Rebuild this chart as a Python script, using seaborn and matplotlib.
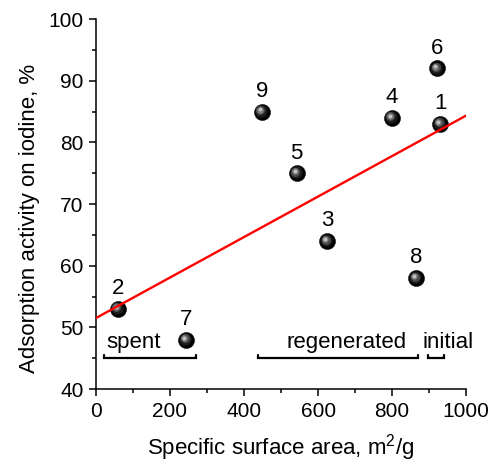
import numpy as np
import pandas as pd
import matplotlib
matplotlib.use("Agg")
import matplotlib.pyplot as plt
import matplotlib.transforms as mtransforms
import seaborn as sns

# Sample numbers and measured properties
sample_ids = ["1", "2", "3", "4", "5", "6", "7", "8", "9"]
surface_area = [930, 59, 624, 799, 542, 922, 243, 865, 448]      # m2/g
iodine_activity = [83, 53, 64, 84, 75, 92, 48, 58, 85]          # %

# Sample groups shown as brackets under the points
group_names = ["spent", "regenerated", "initial"]
group_start = [22, 439, 896]
group_end = [270, 871, 941]
group_label_x = [103, 676, 950]

x_ticks = [0, 200, 400, 600, 800, 1000]
y_ticks = [40, 50, 60, 70, 80, 90, 100]

df = pd.DataFrame({"id": sample_ids, "area": surface_area, "iodine": iodine_activity})

sns.set_style("ticks")
plt.rcParams["font.family"] = ["Liberation Sans", "DejaVu Sans"]
plt.rcParams["mathtext.fontset"] = "custom"
plt.rcParams["mathtext.rm"] = "Liberation Sans"
plt.rcParams["mathtext.default"] = "regular"
plt.rcParams["text.color"] = "black"
plt.rcParams["axes.labelcolor"] = "black"
plt.rcParams["xtick.color"] = "black"
plt.rcParams["ytick.color"] = "black"

fig = plt.figure(figsize=(4.97, 4.65), dpi=100)
ax = fig.add_axes([0.193, 0.1634, 0.745, 0.7956])
ax.set_xlim(0, 1000)
ax.set_ylim(40, 100)

# Shaded spheres: black body with lighter layers shifted up-left
sns.scatterplot(data=df, x="area", y="iodine", ax=ax, s=135, color="black",
                edgecolor="black", linewidth=0.3, zorder=3, legend=False)
layers = [(78, "#1c1c1c", -0.6, 0.6), (42, "#4a4a4a", -1.0, 1.0),
          (21, "#7e7e7e", -1.3, 1.3), (7, "#c2c2c2", -1.5, 1.5)]
for size, col, dx, dy in layers:
    off = ax.transData + mtransforms.ScaledTranslation(dx / 72, dy / 72, fig.dpi_scale_trans)
    ax.scatter(df["area"], df["iodine"], s=size, color=col, linewidths=0,
               transform=off, zorder=3)

# Linear fit over the full axis range
sns.regplot(data=df, x="area", y="iodine", ax=ax, scatter=False, ci=None,
            truncate=False, line_kws=dict(color="#ff0000", lw=1.7, zorder=4))

for sid, xv, yv in zip(sample_ids, surface_area, iodine_activity):
    ax.annotate(sid, (xv, yv), xytext=(0, 14.5), textcoords="offset points",
                ha="center", va="center", fontsize=16, zorder=5)

# Group brackets
bracket_y = 45.0
for name, x0, x1, lx in zip(group_names, group_start, group_end, group_label_x):
    ax.plot([x0, x0, x1, x1], [bracket_y + 0.5, bracket_y, bracket_y, bracket_y + 0.5],
            color="black", lw=1.6, solid_joinstyle="miter", zorder=4)
    ax.text(lx, 47.6, name, ha="center", va="center", fontsize=16, clip_on=False)

ax.set_xticks(x_ticks)
ax.set_yticks(y_ticks)
ax.set_xticks(np.arange(0, 1001, 100), minor=True)
ax.set_yticks(np.arange(40, 101, 5), minor=True)
ax.tick_params(axis="both", which="major", labelsize=15, length=5, width=1.1,
               direction="out", pad=4, color="black", labelcolor="black")
ax.tick_params(axis="both", which="minor", length=3, width=1.1, direction="out", color="black")

ax.set_xlabel("Specific surface area, m$^2$/g", fontsize=16, labelpad=8)
ax.set_ylabel("Adsorption activity on iodine, %", fontsize=16)
ax.yaxis.set_label_coords(-0.15, 0.461)

sns.despine(ax=ax)
for sp in ("left", "bottom"):
    ax.spines[sp].set_linewidth(1.1)
    ax.spines[sp].set_color("black")

fig.savefig("out.png", dpi=100)
